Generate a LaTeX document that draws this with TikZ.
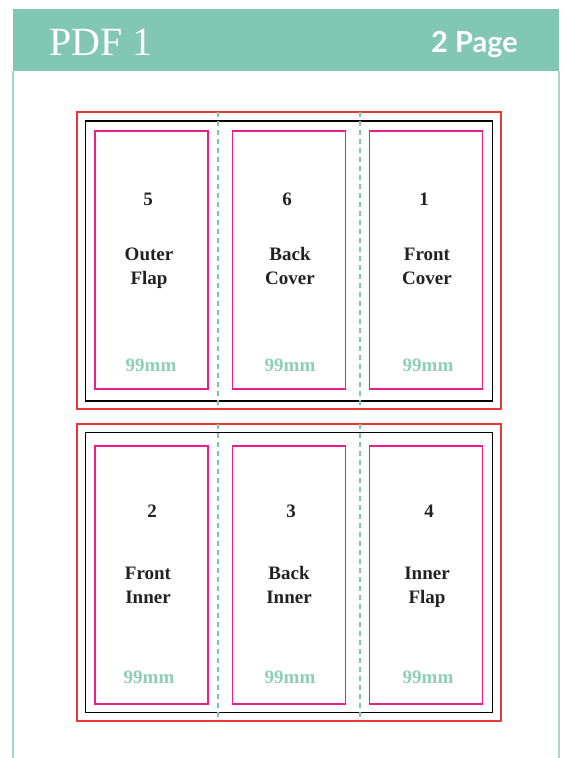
\documentclass[tikz,border=0pt]{standalone}
\usepackage{fontspec}
\setmainfont{Liberation Serif}
\newfontfamily\latofont{Lato}
\definecolor{bandteal}{HTML}{82C6B4}
\definecolor{frameteal}{HTML}{A3D8C8}
\definecolor{mmteal}{HTML}{8ECDB8}
\definecolor{dashteal}{HTML}{7FC4B0}
\definecolor{redline}{HTML}{E53935}
\definecolor{pinkline}{HTML}{EC1C8C}
\definecolor{inktext}{HTML}{222222}
\begin{document}
\begin{tikzpicture}[x=1pt,y=-1pt,
  redbox/.style={draw=redline,line width=1.6pt,minimum width=424pt,minimum height=297pt,inner sep=0pt},
  blackbox/.style={draw=black,line width=1.5pt,minimum width=407pt,minimum height=280pt,inner sep=0pt},
  pinkbox/.style={draw=pinkline,line width=1.25pt,minimum width=113pt,minimum height=258pt,inner sep=0pt},
  foldline/.style={draw=dashteal,line width=1.2pt,dash pattern=on 5pt off 4pt},
  numtxt/.style={font=\fontsize{19}{24}\selectfont\bfseries,text=inktext,anchor=base,inner sep=0pt},
  labtxt/.style={font=\fontsize{19}{24}\selectfont\bfseries,text=inktext,anchor=base,inner sep=0pt,align=center},
  mmtxt/.style={font=\fontsize{19}{24}\selectfont\bfseries,text=mmteal,anchor=base,inner sep=0pt}]
\useasboundingbox (0,0) rectangle (566,758);
% header and frame
\fill[bandteal] (13,9) rectangle (559,71);
\draw[frameteal,line width=1.5pt] (13,71) -- (13,758);
\draw[frameteal,line width=1.5pt] (559,71) -- (559,758);
\node[font=\fontsize{40}{40}\selectfont,text=white,anchor=base west,inner sep=0pt] (title) at (49,55) {PDF 1};
\node[font=\latofont\fontsize{29}{29}\selectfont\bfseries,text=white,anchor=base east,inner sep=0pt] (pages) at (518,52) {2 Page};
% panel 1
\node[redbox] (r1) at (289,260.5) {};
\node[blackbox] (b1) at (289,261) {};
\node[pinkbox] (p1a) at (151.5,260) {};
\node[pinkbox] (p1b) at (289,260) {};
\node[pinkbox] (p1c) at (426,260) {};
\coordinate (d1at) at (218,112); \coordinate (d1ab) at (218,409);
\coordinate (d1bt) at (360,112); \coordinate (d1bb) at (360,409);
\draw[foldline] (d1at) -- (d1ab);
\draw[foldline] (d1bt) -- (d1bb);
% panel 2
\node[redbox] (r2) at (289,572.5) {};
\node[blackbox] (b2) at (289,572.5) {};
\node[pinkbox] (p2a) at (151.5,575) {};
\node[pinkbox] (p2b) at (289,575) {};
\node[pinkbox] (p2c) at (426,575) {};
\coordinate (d2at) at (218,424); \coordinate (d2ab) at (218,721);
\coordinate (d2bt) at (360,424); \coordinate (d2bb) at (360,721);
\draw[foldline] (d2at) -- (d2ab);
\draw[foldline] (d2bt) -- (d2bb);
% texts panel 1
\node[numtxt] (n5) at (148,205.5) {5};
\node[numtxt] (n6) at (287,205.5) {6};
\node[numtxt] (n1) at (424,205.5) {1};
\node[labtxt] (l5) at (149,284) {Outer\\Flap};
\node[labtxt] (l6) at (290,284) {Back\\Cover};
\node[labtxt] (l1) at (427,284) {Front\\Cover};
\node[mmtxt] (m5) at (151,371) {99mm};
\node[mmtxt] (m6) at (290,371) {99mm};
\node[mmtxt] (m1) at (428,371) {99mm};
% texts panel 2
\node[numtxt] (n2) at (152,517.5) {2};
\node[numtxt] (n3) at (291,517.5) {3};
\node[numtxt] (n4) at (429,517.5) {4};
\node[labtxt] (l2) at (148,603) {Front\\Inner};
\node[labtxt] (l3) at (289,603) {Back\\Inner};
\node[labtxt] (l4) at (427,603) {Inner\\Flap};
\node[mmtxt] (m2) at (149,683) {99mm};
\node[mmtxt] (m3) at (290,683) {99mm};
\node[mmtxt] (m4) at (428,683) {99mm};
\end{tikzpicture}
\end{document}
